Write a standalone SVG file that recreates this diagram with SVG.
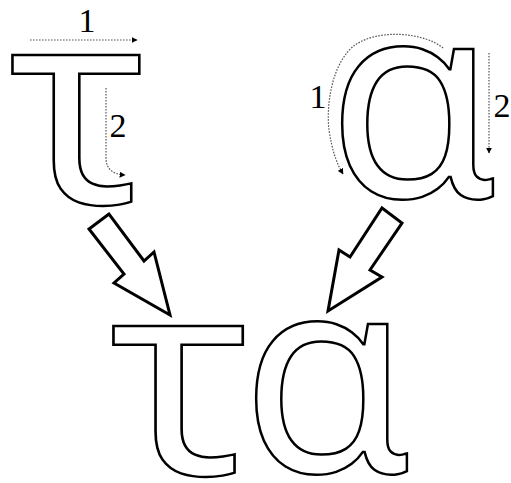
<svg xmlns="http://www.w3.org/2000/svg" width="511" height="483" viewBox="0 0 511 483">
<defs>
<style>
.glyph{font-family:"Noto Sans",sans-serif;font-size:276px;fill:#fff;stroke:#000;stroke-width:2.5px}
.num{font-family:"Liberation Serif","Times New Roman",serif;font-size:34px;fill:#000}
.guide{fill:none;stroke:#555;stroke-width:1.2;stroke-dasharray:1.6 1.4}
.big{fill:#fff;stroke:#000;stroke-width:3;stroke-linejoin:miter}
</style>
<marker id="ah" viewBox="0 0 10 10" refX="9" refY="5" markerWidth="6" markerHeight="6" markerUnits="userSpaceOnUse" orient="auto">
<path d="M0,0 L10,5 L0,10 z" fill="#000"/>
</marker>
</defs>
<rect width="511" height="483" fill="#fff"/>
<g id="tau-top" transform="translate(12,54) scale(1.04,1) translate(-12,-54)"><text class="glyph" x="8" y="203">τ</text></g>
<g id="alpha-top"><text class="glyph" x="327" y="197">α</text></g>
<g id="tau-bottom" transform="translate(113,323) scale(1.06,1) translate(-113,-323)"><text class="glyph" x="109" y="474">τ</text></g>
<g id="alpha-bottom"><text class="glyph" x="241" y="472">α</text></g>
<g id="labels">
<text class="num" x="87" y="32" text-anchor="middle">1</text>
<text class="num" x="118" y="137" text-anchor="middle">2</text>
<text class="num" x="318" y="108" text-anchor="middle">1</text>
<text class="num" x="502" y="117" text-anchor="middle">2</text>
</g>
<g id="connectors">
<path class="guide" d="M30,40 L137,40" marker-end="url(#ah)"/>
<path class="guide" d="M106,88 L106,158 Q106,174 125,175" marker-end="url(#ah)"/>
<path class="guide" d="M443,48 C425,33 380,28 355,45 C332,62 326,105 329,130 C332,150 336,162 343,174" marker-end="url(#ah)"/>
<path class="guide" d="M489,53 L489,153" marker-end="url(#ah)"/>
<polygon class="big" points="109,214 89,229 124,274 114,283 170,315 154,252 144,261"/>
<polygon class="big" points="382,208 402,223 370,270 382,277 328,311 339,250 350,257"/>
</g>
</svg>
